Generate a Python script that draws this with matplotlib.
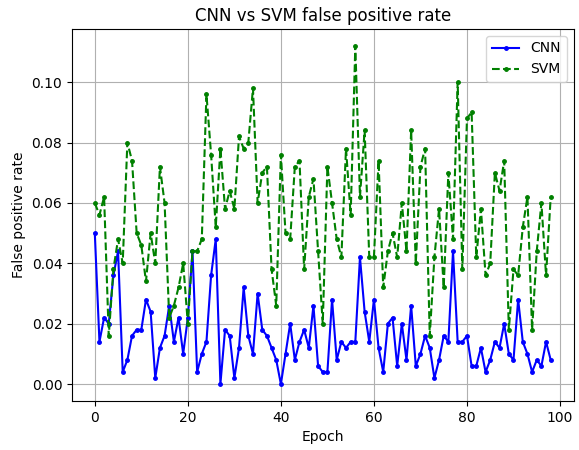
import matplotlib
matplotlib.use("Agg")
import matplotlib.pyplot as plt

epochs = list(range(99))

cnn_fpr = [0.050, 0.014, 0.022, 0.020, 0.036, 0.044, 0.004, 0.008, 0.016, 0.018,
           0.018, 0.028, 0.024, 0.002, 0.012, 0.016, 0.026, 0.014, 0.022, 0.010,
           0.022, 0.044, 0.004, 0.010, 0.014, 0.036, 0.048, 0.000, 0.018, 0.016,
           0.002, 0.012, 0.032, 0.016, 0.010, 0.030, 0.018, 0.016, 0.012, 0.008,
           0.000, 0.010, 0.020, 0.008, 0.014, 0.018, 0.012, 0.026, 0.006, 0.004,
           0.004, 0.028, 0.008, 0.014, 0.012, 0.014, 0.014, 0.042, 0.024, 0.014,
           0.028, 0.012, 0.004, 0.020, 0.022, 0.006, 0.020, 0.008, 0.026, 0.006,
           0.010, 0.016, 0.012, 0.002, 0.008, 0.016, 0.014, 0.044, 0.014, 0.014,
           0.016, 0.006, 0.006, 0.012, 0.004, 0.008, 0.014, 0.012, 0.020, 0.010,
           0.008, 0.028, 0.014, 0.010, 0.004, 0.008, 0.006, 0.014, 0.008]

svm_fpr = [0.060, 0.056, 0.062, 0.016, 0.038, 0.048, 0.040, 0.080, 0.074, 0.050,
           0.046, 0.034, 0.050, 0.040, 0.072, 0.060, 0.022, 0.026, 0.032, 0.040,
           0.020, 0.044, 0.044, 0.048, 0.096, 0.076, 0.052, 0.078, 0.058, 0.064,
           0.058, 0.082, 0.078, 0.080, 0.098, 0.060, 0.070, 0.072, 0.038, 0.026,
           0.076, 0.050, 0.048, 0.072, 0.074, 0.038, 0.062, 0.068, 0.044, 0.020,
           0.072, 0.060, 0.048, 0.042, 0.078, 0.056, 0.112, 0.062, 0.084, 0.042,
           0.042, 0.074, 0.032, 0.044, 0.050, 0.042, 0.060, 0.044, 0.084, 0.040,
           0.072, 0.078, 0.016, 0.042, 0.058, 0.032, 0.070, 0.048, 0.100, 0.038,
           0.088, 0.090, 0.042, 0.058, 0.036, 0.040, 0.070, 0.064, 0.074, 0.018,
           0.038, 0.036, 0.052, 0.062, 0.018, 0.044, 0.060, 0.036, 0.062]

fig = plt.figure(figsize=(5.79, 4.5), dpi=100)
ax = fig.add_axes([72 / 579, 1 - 401 / 450, (573.5 - 72) / 579, (401 - 29) / 450])

ax.plot(epochs, cnn_fpr, color="blue", linestyle="-", marker=".", markersize=5, label="CNN")
ax.plot(epochs, svm_fpr, color="green", linestyle="--", marker=".", markersize=5, label="SVM")

ax.set_title("CNN vs SVM false positive rate")
ax.set_xlabel("Epoch")
ax.set_ylabel("False positive rate")
ax.grid(True)
ax.legend(loc="upper right")

fig.savefig("out.png", dpi=100)
